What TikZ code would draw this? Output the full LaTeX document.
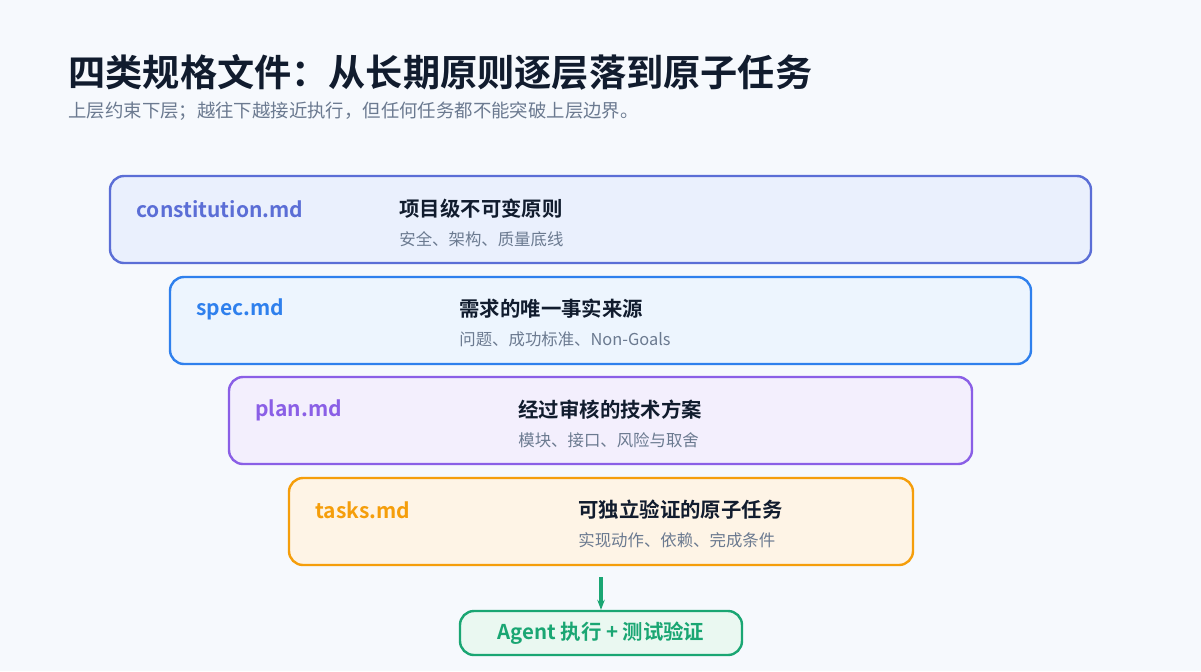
\documentclass[tikz,border=0pt]{standalone}
\usepackage{fontspec}
\setmainfont{Noto Sans CJK SC}[BoldFont={* Bold}]
\usepackage{tikz}
\usetikzlibrary{arrows.meta,positioning}
\definecolor{bgc}{HTML}{F6F9FD}
\definecolor{titc}{HTML}{111C2E}
\definecolor{subc}{HTML}{6B7A90}
\definecolor{conB}{HTML}{5B6ED6}\definecolor{conF}{HTML}{EAF0FD}
\definecolor{speB}{HTML}{2F80ED}\definecolor{speF}{HTML}{EDF5FE}
\definecolor{plaB}{HTML}{8A5FE6}\definecolor{plaF}{HTML}{F3EFFD}
\definecolor{tasB}{HTML}{F59E0B}\definecolor{tasF}{HTML}{FEF4E6}
\definecolor{agB}{HTML}{1AA673}\definecolor{agF}{HTML}{EAF8F1}

\begin{document}
\begin{tikzpicture}[x=0.5pt,y=-0.5pt]
  \tikzset{LayerStyle/.style = {draw=#1, line width=1.2pt, rounded corners=7pt},
           FileStyle/.style  = {anchor=west, font=\bfseries\fontsize{10.5}{12}\selectfont, text=#1},
           HeadStyle/.style  = {anchor=west, font=\bfseries\fontsize{10.2}{12}\selectfont, text=titc},
           NoteStyle/.style  = {anchor=west, font=\fontsize{8.2}{10}\selectfont, text=subc}}
  \fill[bgc] (0,0) rectangle (1201,671);
  \useasboundingbox (0,0) rectangle (1201,671);
  %%% TITRE %%%
  \node[anchor=west, inner sep=0pt, font=\bfseries\fontsize{18.6}{22}\selectfont, text=titc](title) at (68,72){四类规格文件：从长期原则逐层落到原子任务};
  \node[anchor=west, inner sep=0pt, font=\fontsize{9.2}{11}\selectfont, text=subc](sub) at (68,111){上层约束下层；越往下越接近执行，但任何任务都不能突破上层边界。};
  %%% COUCHES %%%
  \filldraw[LayerStyle=conB, fill=conF] (110,176) rectangle (1091,263);
  \node[FileStyle=conB, inner sep=0pt](con) at (136,209){constitution.md};
  \node[HeadStyle, inner sep=0pt](conH) at (399,209){项目级不可变原则};
  \node[NoteStyle, inner sep=0pt](conN) at (399,239){安全、架构、质量底线};
  %
  \filldraw[LayerStyle=speB, fill=speF] (170,277) rectangle (1031,364);
  \node[FileStyle=speB, inner sep=0pt](spe) at (196,309){spec.md};
  \node[HeadStyle, inner sep=0pt](speH) at (459,309){需求的唯一事实来源};
  \node[NoteStyle, inner sep=0pt](speN) at (459,339){问题、成功标准、Non-Goals};
  %
  \filldraw[LayerStyle=plaB, fill=plaF] (229,377) rectangle (972,464);
  \node[FileStyle=plaB, inner sep=0pt](pla) at (255,410){plan.md};
  \node[HeadStyle, inner sep=0pt](plaH) at (518,410){经过审核的技术方案};
  \node[NoteStyle, inner sep=0pt](plaN) at (518,440){模块、接口、风险与取舍};
  %
  \filldraw[LayerStyle=tasB, fill=tasF] (289,478) rectangle (913,565);
  \node[FileStyle=tasB, inner sep=0pt](tas) at (315,510){tasks.md};
  \node[HeadStyle, inner sep=0pt](tasH) at (578,510){可独立验证的原子任务};
  \node[NoteStyle, inner sep=0pt](tasN) at (578,540){实现动作、依赖、完成条件};
  %%% EXECUTION %%%
  \node[draw=agB, fill=agF, line width=1.2pt, rounded corners=7pt, minimum width=141pt, minimum height=22pt,
        font=\bfseries\fontsize{10.2}{12}\selectfont, text=agB](agent) at (601,633){Agent 执行 + 测试验证};
  \coordinate (start) at (601,577);
  \draw[agB, line width=2pt, -{Stealth[length=5pt]}] (start) -- (agent.north);
\end{tikzpicture}
\end{document}
